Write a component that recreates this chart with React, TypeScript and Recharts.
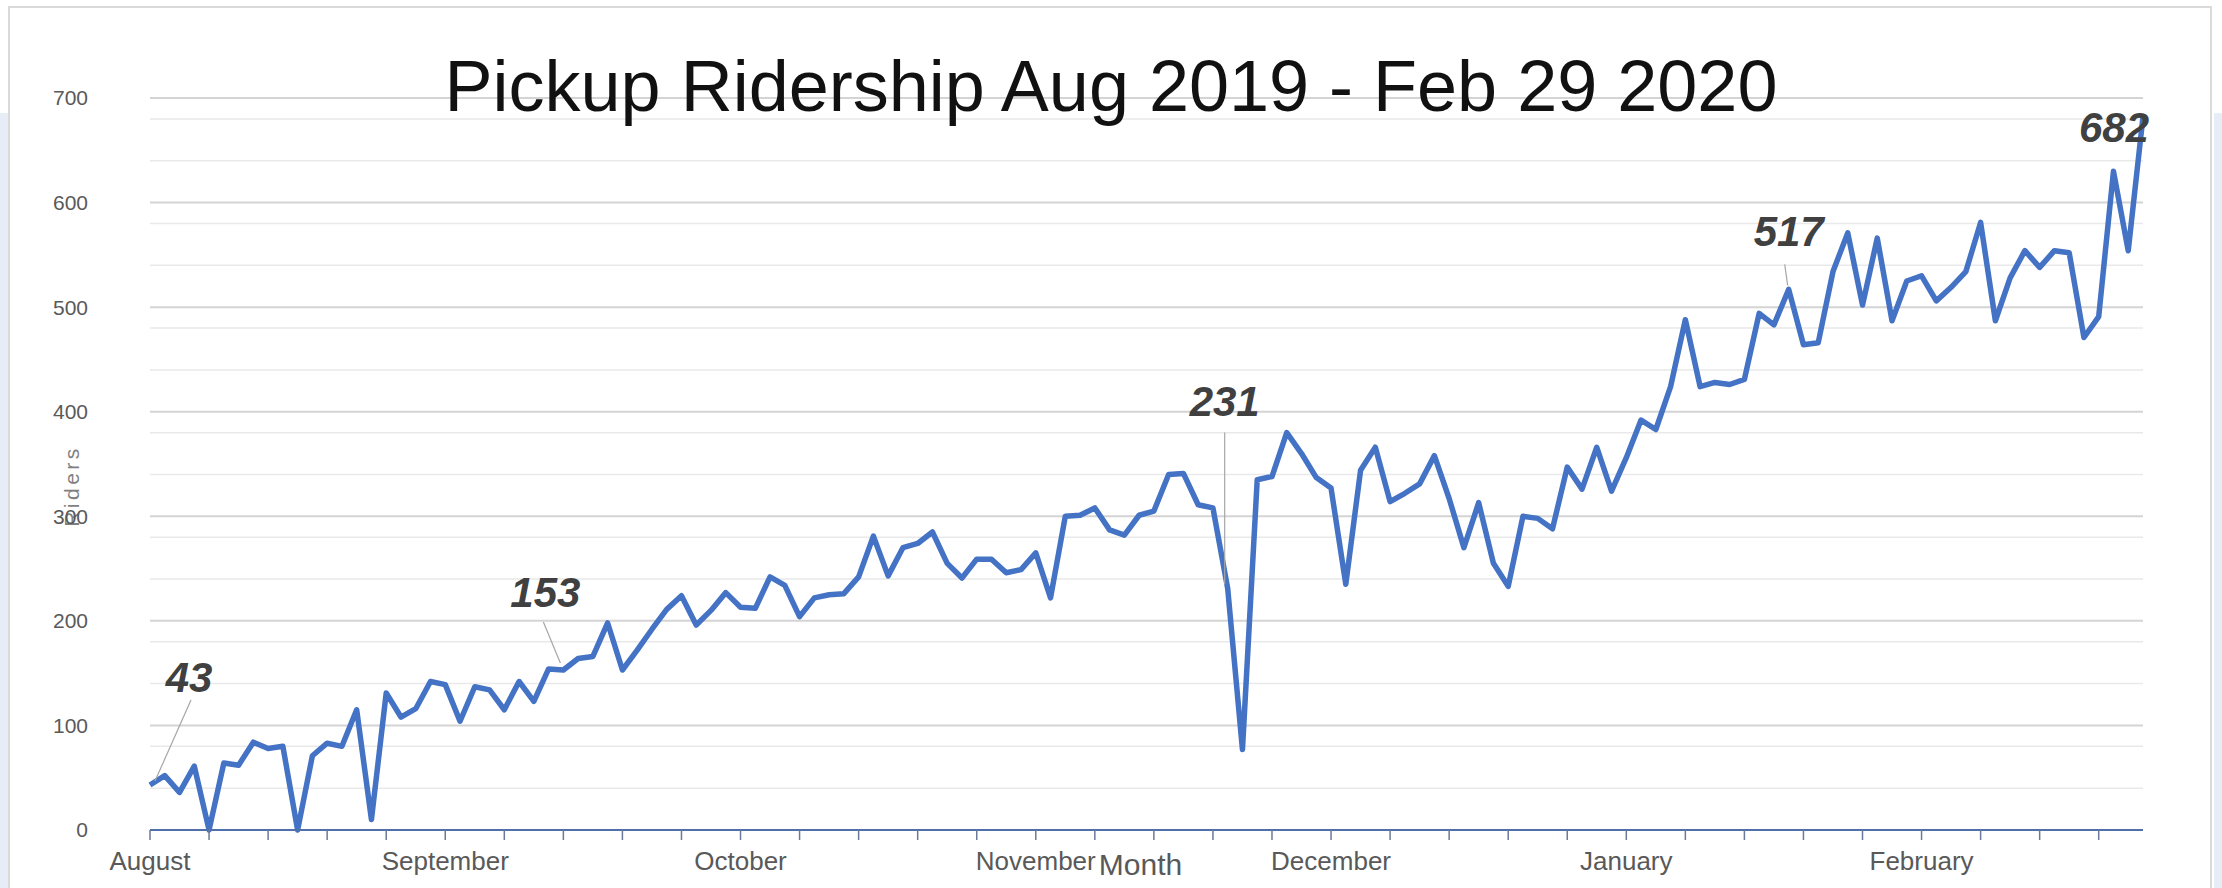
import React from 'react';
import { LineChart, Line, XAxis, YAxis, CartesianGrid, LabelList } from 'recharts';

// daily pickup riders, Aug 2019 - Feb 29 2020
const riders = [
  43, 52, 36, 61, 0, 64, 62, 84, 78, 80,
  0, 71, 83, 80, 115, 10, 131, 108, 116, 142,
  139, 104, 137, 134, 115, 142, 123, 154, 153, 164,
  166, 198, 153, 172, 192, 211, 224, 196, 210, 227,
  213, 212, 242, 234, 204, 222, 225, 226, 242, 281,
  243, 270, 274, 285, 255, 241, 259, 259, 246, 249,
  265, 222, 300, 301, 308, 287, 282, 301, 305, 340,
  341, 311, 308, 231, 77, 335, 338, 380, 360, 337,
  327, 235, 344, 366, 314, 322, 331, 358, 317, 270,
  313, 255, 233, 300, 298, 288, 347, 326, 366, 324,
  356, 392, 383, 424, 488, 424, 428, 426, 431, 494,
  483, 517, 464, 466, 534, 571, 502, 566, 487, 525,
  530, 506, 519, 534, 581, 487, 528, 554, 538, 554,
  552, 471, 491, 630, 554, 682,
];

const monthLabels = ['August', 'September', 'October', 'November', 'December', 'January', 'February'];
const daysPerLabel = 20;
const daysPerTick = 4;

const yTicks = [0, 100, 200, 300, 400, 500, 600, 700];
const minorGrid = [20, 40, 60, 80, 120, 140, 160, 180, 220, 240, 260, 280, 320, 340, 360, 380,
  420, 440, 460, 480, 520, 540, 560, 580, 620, 640, 660, 680];

// points that carry a data label
const calloutDays = [0, 28, 73, 111, 135];

const chartData = riders.map((v, i) => ({ day: i, riders: v }));
const xTicks = chartData.filter((d) => d.day % daysPerTick === 0).map((d) => d.day);

const FONT = "'Liberation Sans', Arial, sans-serif";

// label placement relative to its point: text centre/baseline + leader line
const calloutPos: Record<number, { dx: number; dy: number; leader?: number[] }> = {
  0: { dx: 39, dy: -93, leader: [41, -85, 5, -4] },
  28: { dx: -18, dy: -63, leader: [-20, -48, -3, -7] },
  73: { dx: -3, dy: -172, leader: [-3, -156, -3, -4] },
  111: { dx: 0, dy: -43, leader: [-4, -25, -1, -4] },
  135: { dx: -29, dy: 25 },
};

const renderCallout = (props: any) => {
  const { index, value } = props;
  if (!calloutDays.includes(index)) return null;
  const x = Number(props.x);
  const y = Number(props.y);
  const p = calloutPos[index];
  return (
    <g>
      {p.leader && (
        <line
          x1={x + p.leader[0]} y1={y + p.leader[1]}
          x2={x + p.leader[2]} y2={y + p.leader[3]}
          stroke="#a6a6a6" strokeWidth={1.2}
        />
      )}
      <text
        x={x + p.dx} y={y + p.dy} textAnchor="middle"
        fontFamily={FONT} fontSize={42} fontWeight="bold" fontStyle="italic" fill="#404040"
      >
        {value}
      </text>
    </g>
  );
};

const renderRiders = (props: any) => {
  const vb = props.viewBox || { x: 50, y: 98, width: 100, height: 732 };
  return (
    <text
      transform={`translate(${vb.x + 21} ${vb.y + vb.height / 2 + 22}) rotate(-90)`}
      textAnchor="middle" dominantBaseline="central"
      fontFamily={FONT} fontSize={21} letterSpacing={3.5} fill="#7f7f7f"
    >
      Riders
    </text>
  );
};

const App: React.FC = () => {
  return (
    <div style={{ position: 'absolute', left: 0, top: 0, width: 2222, height: 888, overflow: 'hidden', background: '#ffffff' }}>
      <div style={{ position: 'absolute', left: 0, top: 113, width: 9, height: 775, background: '#e7edf7' }} />
      <div style={{ position: 'absolute', left: 2214, top: 113, width: 8, height: 775, background: '#e7edf7' }} />
      <div style={{ position: 'absolute', left: 8, top: 6, width: 2204, height: 900, border: '2px solid #dadada', boxSizing: 'border-box' }} />

      <div style={{ position: 'absolute', left: 0, top: 0 }}>
        <LineChart width={2222} height={888} data={chartData} margin={{ top: 98, right: 79, bottom: 8, left: 50 }}>
          <CartesianGrid vertical={false} horizontalValues={minorGrid} stroke="#e9e9e9" strokeWidth={1.5} />
          <CartesianGrid vertical={false} horizontalValues={yTicks} stroke="#d4d4d4" strokeWidth={2} />
          <XAxis
            dataKey="day"
            type="number"
            domain={[0, riders.length - 1]}
            ticks={xTicks}
            interval={0}
            tickFormatter={(d: number) => (d % daysPerLabel === 0 ? monthLabels[d / daysPerLabel] || '' : '')}
            tickSize={10}
            tickMargin={12}
            height={50}
            axisLine={{ stroke: '#4f70aa', strokeWidth: 2 }}
            tickLine={{ stroke: '#6b7a99', strokeWidth: 1.5 }}
            tick={{ fill: '#595959', fontSize: 26, fontFamily: FONT }}
            label={{ value: 'Month', position: 'insideBottom', offset: 5, fill: '#595959', fontSize: 30, fontFamily: FONT, dx: -6 }}
          />
          <YAxis
            type="number"
            domain={[0, 700]}
            ticks={yTicks}
            width={100}
            tickSize={0}
            tickMargin={62}
            axisLine={false}
            tickLine={false}
            tick={{ fill: '#595959', fontSize: 21, fontFamily: FONT }}
            label={{ content: renderRiders }}
          />
          <Line
            type="linear"
            dataKey="riders"
            stroke="#4472c4"
            strokeWidth={5.5}
            strokeLinejoin="round"
            dot={false}
            activeDot={false}
            isAnimationActive={false}
          >
            <LabelList dataKey="riders" content={renderCallout} />
          </Line>
        </LineChart>
      </div>

      <div
        style={{
          position: 'absolute', left: 9, top: 50, width: 2204, textAlign: 'center',
          fontFamily: FONT, fontSize: 72, lineHeight: '72px', color: '#111111', whiteSpace: 'nowrap',
        }}
      >
        Pickup Ridership Aug 2019 - Feb 29 2020
      </div>
    </div>
  );
};

export default App;
